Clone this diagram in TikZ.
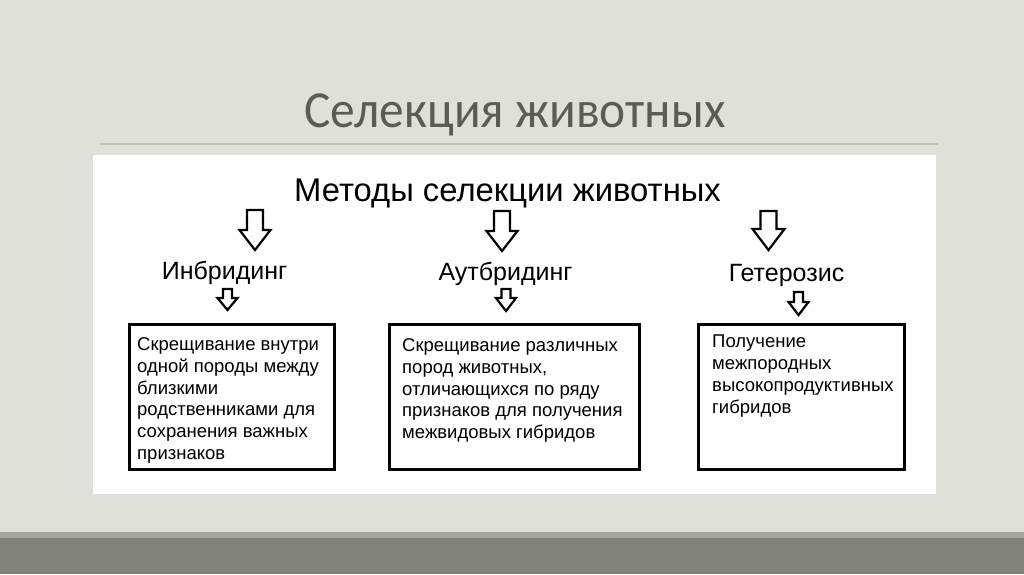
\documentclass[tikz,border=0pt]{standalone}
\usepackage{fontspec}
\setmainfont{Liberation Sans}
\newfontfamily\titlefont{Carlito}
\usetikzlibrary{positioning}

\definecolor{slidebg}{RGB}{224,224,219}
\definecolor{titlegray}{RGB}{92,92,87}
\definecolor{rulegray}{RGB}{192,192,187}
\definecolor{bandlight}{RGB}{166,166,161}
\definecolor{banddark}{RGB}{130,130,124}

\tikzset{
  arrowline/.style={draw=black,fill=white,line width=2.2,line join=miter},
  methodbox/.style={draw=black,line width=2.8,minimum width=205,minimum height=145,anchor=north west,inner sep=0},
  boxtext/.style={anchor=north west,align=left,inner sep=0,font=\fontsize{18.5}{21.7}\selectfont},
  methodlabel/.style={anchor=base,font=\fontsize{25}{28}\selectfont}
}

% block arrow: x, top, head start, tip, half shaft, half head
\newcommand{\blkarrow}[6]{%
  \draw[arrowline] (#1-#5,#2) -- (#1+#5,#2) -- (#1+#5,#3) -- (#1+#6,#3) -- (#1,#4)
    -- (#1-#6,#3) -- (#1-#5,#3) -- cycle;
}

\begin{document}
\begin{tikzpicture}[x=1pt,y=1pt,yscale=-1,xscale=1]
\useasboundingbox (0,0) rectangle (1024,574);

%Slide background
\fill[slidebg] (0,0) rectangle (1024,574);
\fill[bandlight] (0,532) rectangle (1024,538);
\fill[banddark] (0,538) rectangle (1024,574);

%Title and rule
\node[anchor=base,text=titlegray,font=\titlefont\fontsize{52}{60}\selectfont] (title) at (515,127) {\scalebox{0.95}[1]{Селекция животных}};
\draw[rulegray,line width=1.2] (100,144) -- (938,144);

%White panel
\fill[white] (93,155) rectangle (936,494);

\node[anchor=base,font=\fontsize{32.8}{36}\selectfont] (methods) at (507.5,201.5) {Методы селекции животных};

%Big arrows
\blkarrow{255}{210}{230}{250}{8}{15.5}
\blkarrow{502}{211}{231}{251}{8}{15.5}
\blkarrow{768.5}{211}{229}{250}{8}{16}

%Labels
\node[methodlabel] (inbr) at (224.5,279) {Инбридинг};
\node[methodlabel] (outbr) at (505.5,280) {Аутбридинг};
\node[methodlabel] (heter) at (786.5,281) {Гетерозис};

%Small arrows
\blkarrow{227.5}{289}{298}{310}{4.5}{10}
\blkarrow{506}{289}{298}{311}{4.5}{10}
\blkarrow{798.5}{292}{302}{315}{4.5}{10}

%Boxes
\node[methodbox] (box1) at (128,323) {};
\node[methodbox,minimum width=250] (box2) at (388,323) {};
\node[methodbox,minimum width=206] (box3) at (697,323) {};

\node[boxtext] (txt1) at (137,337.5) {Скрещивание внутри\\одной породы между\\близкими\\родственниками для\\сохранения важных\\признаков};
\node[boxtext] (txt2) at (402,338.5) {Скрещивание различных\\пород животных,\\отличающихся по ряду\\признаков для получения\\межвидовых гибридов};
\node[boxtext] (txt3) at (712,335) {Получение\\межпородных\\высокопродуктивных\\гибридов};

\end{tikzpicture}
\end{document}
